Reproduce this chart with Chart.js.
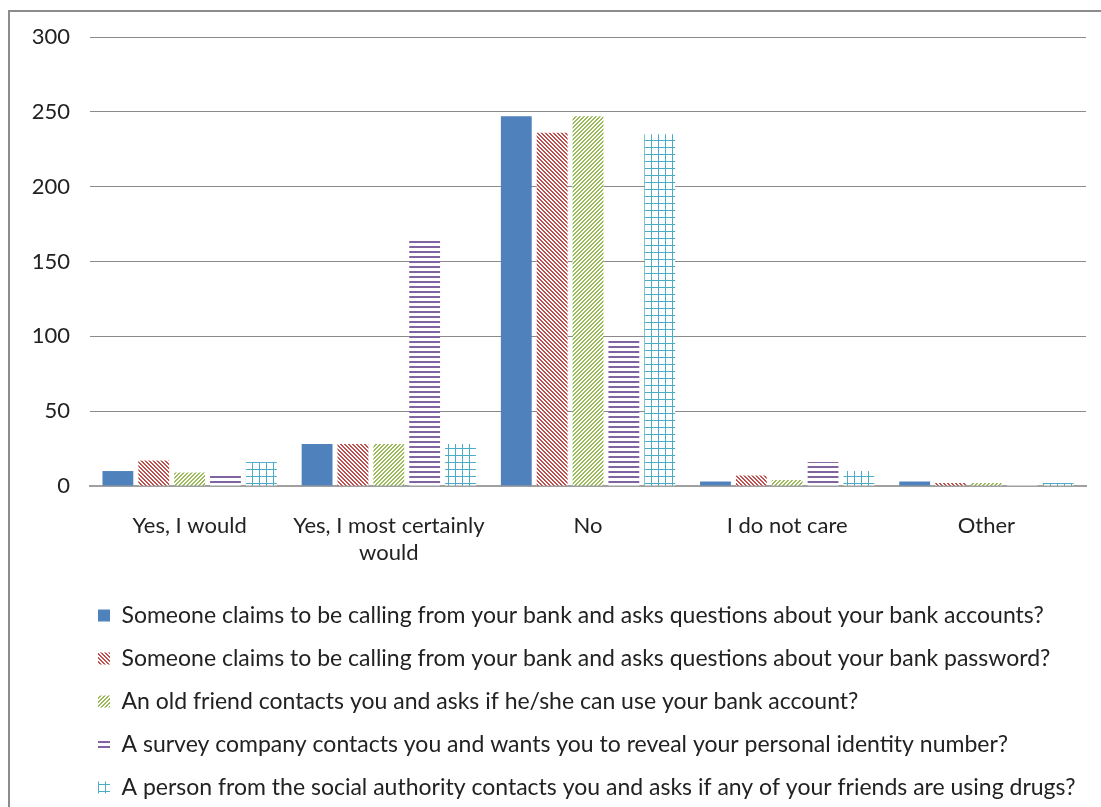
<!DOCTYPE html>
<html>
<head>
<meta charset="utf-8">
<script src="https://cdn.jsdelivr.net/npm/chart.js@4/dist/chart.umd.min.js"></script>
<style>
  body { margin: 0; background: #fff; }
  #frame { position: absolute; left: 8px; top: 10px; width: 1120px; height: 820px; border: 2px solid #8c8c8c; }
  #c { position: absolute; left: 0; top: 0; }
</style>
</head>
<body>
<div id="frame"></div>
<canvas id="c" width="1101" height="807"></canvas>
<script>
const categories = [
    'Yes, I would',
    ['Yes, I most certainly', 'would'],
    'No',
    'I do not care',
    'Other'
];

const seriesNames = [
    'Someone claims to be calling from your bank and asks questions about your bank accounts?',
    'Someone claims to be calling from your bank and asks questions about your bank password?',
    'An old friend contacts you and asks if he/she can use your bank account?',
    'A survey company contacts you and wants you to reveal your personal identity number?',
    'A person from the social authority contacts you and asks if any of your friends are using drugs?'
];

const bankAccounts = [10, 28, 247, 3, 3];
const bankPassword = [17, 28, 236, 7, 2];
const oldFriend    = [9, 28, 247, 4, 2];
const surveyId     = [7, 164, 98, 16, 1];
const socialDrugs  = [16, 28, 235, 10, 2];

const yMax = 300;
const yStep = 50;

// little pattern helpers
function makePattern(size, draw) {
    let pc = document.createElement('canvas');
    pc.width = size; pc.height = size;
    let p = pc.getContext('2d');
    p.fillStyle = '#ffffff';
    p.fillRect(0, 0, size, size);
    draw(p, size);
    return document.getElementById('c').getContext('2d').createPattern(pc, 'repeat');
}

const redPattern = makePattern(4, (p, s) => {
    p.fillStyle = '#C0504D';
    for (let i = 0; i < s; i++) {
        p.fillRect(i, i, 1, 1);
        p.fillRect((i + 1) % s, i, 1, 1);
    }
});
const greenPattern = makePattern(4, (p, s) => {
    p.fillStyle = '#9BBB59';
    for (let i = 0; i < s; i++) {
        p.fillRect(s - 1 - i, i, 1, 1);
        p.fillRect((s - i) % s, i, 1, 1);
    }
});
const purplePattern = makePattern(5, (p, s) => {
    p.fillStyle = '#8064A2';
    p.fillRect(0, 1, s, 2);
});
const cyanPattern = makePattern(7, (p, s) => {
    p.fillStyle = '#4BACC6';
    p.fillRect(0, 0, s, 1);
    p.fillRect(0, 0, 1, s);
});

const font = "Lato, 'Open Sans', sans-serif";

// legend sits further right than the y axis labels, nudge it over
const legendShift = {
    id: 'legendShift',
    afterUpdate(chart) {
        chart.legend.left += 68;
        chart.legend.right += 68;
        chart.legend.top += 2;
    }
};

const ctx = document.getElementById('c').getContext('2d');
const myChart = new Chart(ctx, {
    type: 'bar',
    data: {
        labels: categories,
        datasets: [
            { label: seriesNames[0], data: bankAccounts, backgroundColor: '#4F81BD' },
            { label: seriesNames[1], data: bankPassword, backgroundColor: redPattern },
            { label: seriesNames[2], data: oldFriend, backgroundColor: greenPattern },
            { label: seriesNames[3], data: surveyId, backgroundColor: purplePattern },
            { label: seriesNames[4], data: socialDrugs, backgroundColor: cyanPattern }
        ]
    },
    options: {
        responsive: false,
        animation: false,
        layout: { padding: { left: 10, right: 15, top: 37, bottom: 0 } },
        datasets: {
            bar: { categoryPercentage: 0.9, barPercentage: 0.86 }
        },
        plugins: {
            tooltip: { enabled: false },
            legend: {
                position: 'bottom',
                align: 'start',
                labels: {
                    boxWidth: 12,
                    boxHeight: 12,
                    padding: 20,
                    color: '#222',
                    font: { family: font, size: 23 }
                }
            }
        },
        scales: {
            x: {
                grid: { display: false },
                border: { color: '#a0a0a0', width: 2 },
                ticks: {
                    color: '#222',
                    padding: 19,
                    maxRotation: 0,
                    autoSkip: false,
                    font: { family: font, size: 22 }
                },
                afterFit: (scale) => { scale.height = 96; }
            },
            y: {
                min: 0,
                max: yMax,
                grid: { color: '#8a8a8a', drawTicks: false },
                border: { display: false },
                ticks: {
                    stepSize: yStep,
                    color: '#222',
                    padding: 20,
                    font: { family: font, size: 22 }
                },
                afterFit: (scale) => { scale.width = 80; }
            }
        }
    },
    plugins: [legendShift]
});
</script>
</body>
</html>
